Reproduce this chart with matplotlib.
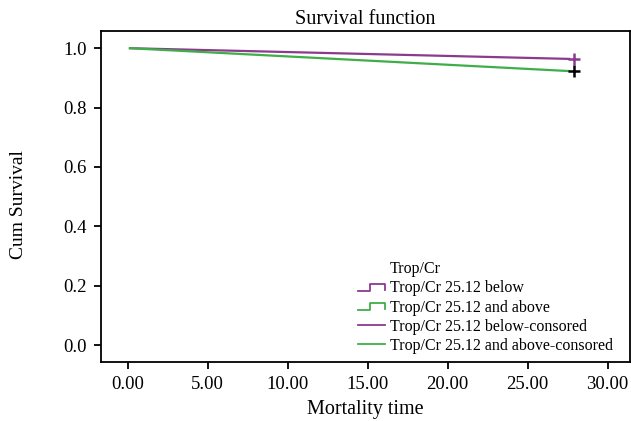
import matplotlib
matplotlib.use("Agg")
import matplotlib.pyplot as plt
from matplotlib.lines import Line2D
from matplotlib.legend_handler import HandlerBase

plt.rcParams['font.family'] = ['Liberation Serif', 'DejaVu Serif']

# data
below_t = [0.14, 27.6]
below_s = [1.0, 0.964]
above_t = [0.14, 27.6]
above_s = [1.0, 0.923]
cens_below_t = [27.9]
cens_below_s = [0.964]
cens_above_t = [27.9]
cens_above_s = [0.923]
xticks = [0, 5, 10, 15, 20, 25, 30]
yticks = [0.0, 0.2, 0.4, 0.6, 0.8, 1.0]

purple = '#8b3a8f'
green = '#3fae49'

fig = plt.figure(figsize=(6.31, 4.21), dpi=100)
ax = fig.add_axes([101/631, 1-362/421, 529/631, (362-30.7)/421])

ax.plot(below_t, below_s, color=purple, lw=1.6)
ax.plot(above_t, above_s, color=green, lw=1.6)
ax.plot(cens_below_t, cens_below_s, '+', color=purple, ms=8, mew=1.8)
ax.plot(cens_above_t, cens_above_s, '+', color='black', ms=8, mew=1.8)

ax.set_xlim(-1.67, 31.4)
ax.set_ylim(-0.057, 1.059)
ax.set_xticks(xticks)
ax.set_xticklabels([f"{v:.2f}" for v in xticks])
ax.set_yticks(yticks)
ax.set_yticklabels([f"{v:.1f}" for v in yticks])
ax.tick_params(labelsize=13.5, length=5, width=1.3, pad=5)
for s in ax.spines.values():
    s.set_linewidth(1.3)
ax.set_xlabel("Mortality time", fontsize=14.5, labelpad=5)
ax.set_ylabel("Cum Survival", fontsize=14)
ax.yaxis.set_label_coords(-0.140, 0.474)
ax.set_title("Survival function", fontsize=14.5, pad=5)


class StepHandler(HandlerBase):
    def create_artists(self, legend, orig_handle, xdescent, ydescent, width, height, fontsize, trans):
        lo = height * 0.15 - ydescent
        hi = height * 0.75 - ydescent
        x0 = -xdescent
        xs = [x0, x0 + 0.45 * width, x0 + 0.45 * width, x0 + width, x0 + width]
        ys = [lo, lo, hi, hi, lo + 0.1 * height]
        l = Line2D(xs, ys, color=orig_handle.get_color(), lw=1.3, transform=trans)
        return [l]


class StepProxy:
    def __init__(self, color):
        self.color = color

    def get_color(self):
        return self.color


blank = Line2D([], [], color='none')
h1 = StepProxy(purple)
h2 = StepProxy(green)
h3 = Line2D([], [], color=purple, lw=1.3)
h4 = Line2D([], [], color=green, lw=1.3)
labels = ["Trop/Cr", "Trop/Cr 25.12 below", "Trop/Cr 25.12 and above",
          "Trop/Cr 25.12 below-consored", "Trop/Cr 25.12 and above-consored"]
leg = ax.legend([blank, h1, h2, h3, h4], labels,
                handler_map={StepProxy: StepHandler()},
                loc='lower left', bbox_to_anchor=(358/631, 1-354/421),
                bbox_transform=fig.transFigure, frameon=False,
                fontsize=11.5, handlelength=1.7, handletextpad=0.3,
                labelspacing=0.2, borderaxespad=0, borderpad=0)

fig.savefig("out.png", dpi=100)
